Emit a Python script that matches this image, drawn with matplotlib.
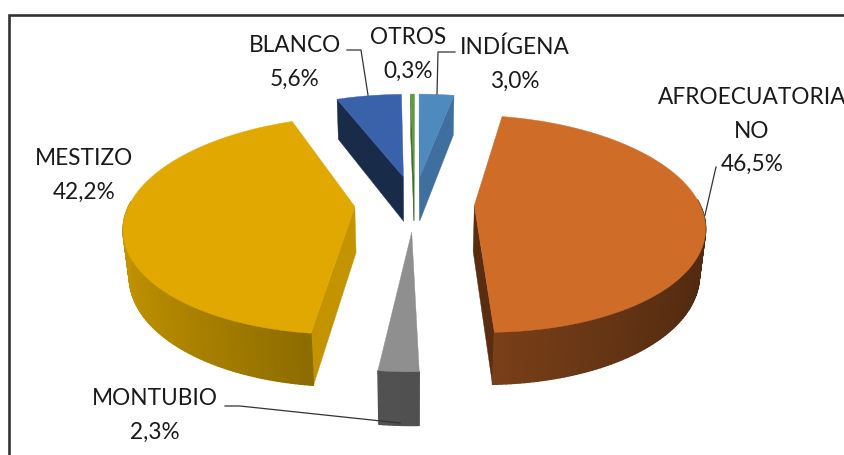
import numpy as np
from matplotlib import pyplot as plt
from matplotlib.collections import PolyCollection
from matplotlib.colors import to_rgb

plt.rcParams['font.family'] = ['Lato', 'DejaVu Sans']

# datos, en sentido horario desde arriba
categorias = ['INDÍGENA', 'AFROECUATORIA\nNO', 'MONTUBIO', 'MESTIZO', 'BLANCO', 'OTROS']
valores = [3.0, 46.5, 2.3, 42.2, 5.6, 0.3]

color_tapa = ['#4E8ABE', '#CE6C28', '#8F8F8F', '#E0A800', '#3A62AB', '#5C9E3E']
color_corte = ['#3E6F9E', '#5A2C10', '#6E6E6E', '#C49400', '#182B49', '#3C6E2A']
color_pared_a = ['#3E6F9E', '#7A4018', '#5A5A5A', '#C49400', '#182B49', '#3C6E2A']
color_pared_b = ['#3E6F9E', '#4E2810', '#505050', '#856600', '#182B49', '#3C6E2A']

# proyeccion en perspectiva de la torta 3D (en pixeles)
cx, cy = 414.5, 203
F = 225
tilt = np.arcsin(0.465)
D = 5.2
alto = 0.235
explode = 0.266


def proyectar(x, y, z):
    prof = 1 + (y * np.cos(tilt) - z * np.sin(tilt)) / D
    return cx + F * x / prof, cy - F * (y * np.sin(tilt) + z * np.cos(tilt)) / prof


def area(p):
    x, y = p[:, 0], -p[:, 1]
    return 0.5 * np.sum(x * np.roll(y, -1) - np.roll(x, -1) * y)


fig = plt.figure(figsize=(8.45, 4.55), dpi=100)
ax = fig.add_axes([0, 0, 1, 1])
ax.set_xlim(0, 845)
ax.set_ylim(455, 0)
ax.axis('off')

# marco
ax.plot([9, 9, 845], [455, 14.5, 14.5], color='#333333', lw=1.9, solid_joinstyle='miter')

angulos = np.cumsum([0] + valores) / sum(valores) * 2 * np.pi

for i in sorted(range(len(valores)), key=lambda k: -np.cos((angulos[k] + angulos[k + 1]) / 2)):
    a0, a1 = angulos[i], angulos[i + 1]
    m = (a0 + a1) / 2
    ex, ey = explode * np.sin(m), explode * np.cos(m)
    t = np.linspace(a0, a1, max(int(np.degrees(a1 - a0)), 2) + 1)
    rx, ry = ex + np.sin(t), ey + np.cos(t)
    arriba = np.column_stack(proyectar(rx, ry, 0 * t))
    abajo = np.column_stack(proyectar(rx, ry, -alto + 0 * t))
    ap_arr = np.array(proyectar(ex, ey, 0))
    ap_aba = np.array(proyectar(ex, ey, -alto))

    # caras del corte, solo las que miran a la camara
    cara0 = np.array([ap_arr, arriba[0], abajo[0], ap_aba])
    cara1 = np.array([ap_arr, arriba[-1], abajo[-1], ap_aba])
    if area(cara0) > 0:
        ax.add_patch(plt.Polygon(cara0, color=color_corte[i], lw=0.3))
    if area(cara1) < 0:
        ax.add_patch(plt.Polygon(cara1, color=color_corte[i], lw=0.3))

    # pared exterior con degradado
    polys, cols = [], []
    ca, cb = np.array(to_rgb(color_pared_a[i])), np.array(to_rgb(color_pared_b[i]))
    for j in range(len(t) - 1):
        tm = (t[j] + t[j + 1]) / 2
        if np.cos(tm) < 0.05:
            polys.append([arriba[j], arriba[j + 1], abajo[j + 1], abajo[j]])
            s = abs(np.sin(tm)) if i == 1 else 1 - abs(np.sin(tm))
            cols.append(ca + (cb - ca) * s)
    if polys:
        ax.add_collection(PolyCollection(polys, facecolors=cols, edgecolors=cols, linewidths=1.0))

    # tapa
    ax.add_patch(plt.Polygon(np.vstack([ap_arr, arriba]), color=color_tapa[i], lw=0.3))

# etiquetas
pos_texto = [(515, 64), (752, 131), (155, 415), (84, 175), (295, 62), (408, 54)]
lineas = [[(455, 52), (438, 52), (437, 94)],
          [(716, 167), (705, 215)],
          [(225, 406), (240, 406), (400, 423)],
          None,
          [(347, 50), (361, 50), (368, 95)],
          None]
for i, nombre in enumerate(categorias):
    etiqueta = nombre + '\n' + f'{valores[i]:.1f}'.replace('.', ',') + '%'
    ax.text(pos_texto[i][0], pos_texto[i][1], etiqueta, ha='center', va='center',
            fontsize=16.3, color='#1a1a1a', linespacing=1.75)
    if lineas[i]:
        xs, ys = zip(*lineas[i])
        ax.plot(xs, ys, color='#333333', lw=0.9)

fig.savefig('out.png', dpi=100)
